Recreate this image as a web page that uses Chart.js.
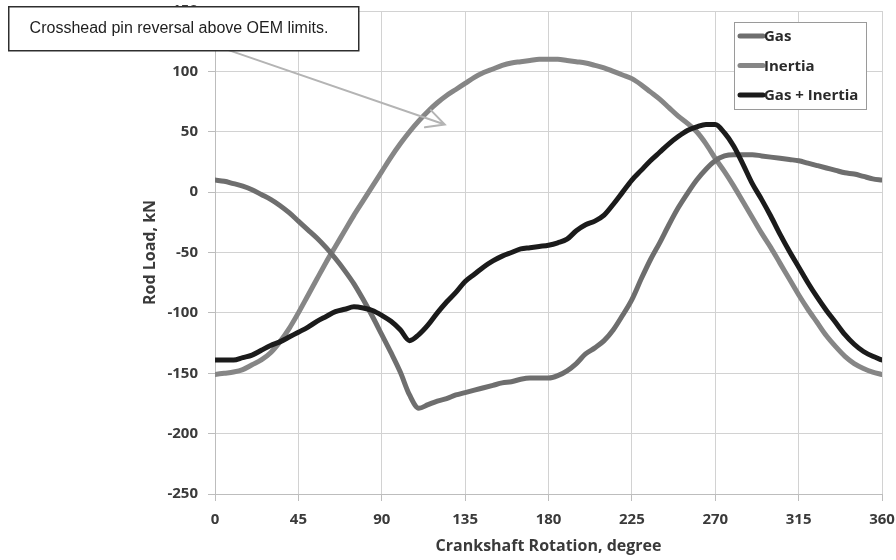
<!DOCTYPE html>
<html>
<head>
<meta charset="utf-8">
<script src="https://cdn.jsdelivr.net/npm/chart.js@4.4.1/dist/chart.umd.min.js"></script>
<style>
  html, body { margin: 0; padding: 0; background: #ffffff; }
  #wrap { width: 896px; height: 560px; position: relative; }
</style>
</head>
<body>
<div id="wrap"><canvas id="rodLoad" width="896" height="560"></canvas></div>
<script>
// Crank angle, degrees
const angles = [
  0, 5, 10, 15, 20, 25, 30, 35, 40, 45, 50, 55, 60, 65, 70, 75, 80, 85, 90,
  95, 100, 105, 110, 115, 120, 125, 130, 135, 140, 145, 150, 155, 160, 165, 170, 175, 180,
  185, 190, 195, 200, 205, 210, 215, 220, 225, 230, 235, 240, 245, 250, 255, 260, 265, 270,
  275, 280, 285, 290, 295, 300, 305, 310, 315, 320, 325, 330, 335, 340, 345, 350, 355, 360
];

// Gas load, kN
const gasLoad = [
  10, 9, 7, 5, 2, -2, -6, -11, -17, -24, -31, -38, -46, -55, -65, -76, -89, -103, -118,
  -133, -149, -168, -179, -176, -173, -171, -168, -166, -164, -162, -160, -158, -157, -155, -154, -154, -154,
  -152, -148, -142, -134, -129, -123, -114, -102, -89, -72, -56, -42, -27, -13, -1, 10, 19, 26,
  30, 31, 31, 31, 30, 29, 28, 27, 26, 24, 22, 20, 18, 16, 15, 13, 11, 10
];

// Inertia load, kN
const inertiaLoad = [
  -151, -150, -149, -147, -143, -139, -133, -124, -113, -100, -86, -72, -58, -45, -32, -19, -7, 5, 17,
  29, 40, 50, 59, 67, 74, 80, 85, 90, 95, 99, 102, 105, 107, 108, 109, 110, 110,
  110, 109, 108, 107, 105, 103, 100, 97, 94, 89, 83, 77, 70, 63, 57, 50, 40, 28,
  17, 5, -8, -21, -34, -46, -59, -72, -85, -97, -108, -119, -128, -136, -142, -146, -149, -151
];

// Combined gas + inertia load, kN
const combinedLoad = [
  -139, -139, -139, -137, -135, -131, -127, -124, -120, -116, -112, -107, -103, -99, -97, -95, -96, -98, -102,
  -107, -114, -123, -118, -110, -100, -91, -83, -74, -68, -62, -57, -53, -50, -47, -46, -45, -44,
  -42, -39, -32, -27, -24, -19, -10, 0, 10, 18, 26, 33, 40, 46, 51, 54, 56, 56,
  49, 38, 23, 7, -6, -20, -35, -49, -62, -75, -87, -98, -108, -118, -126, -132, -136, -139
];

const seriesNames = ['Gas', 'Inertia', 'Gas + Inertia'];
const xTicks = [0, 45, 90, 135, 180, 225, 270, 315, 360];
const yTicks = [-250, -200, -150, -100, -50, 0, 50, 100, 150];

const calloutText = 'Crosshead pin reversal above OEM limits.';
// Arrow from the callout box toward the inertia curve (data coordinates)
const arrowFrom = { x: 6.5, y: 118 };
const arrowTo = { x: 124, y: 56 };

const tickFont = { family: '"Open Sans", "DejaVu Sans", sans-serif', size: 15, weight: 'bold' };
const titleFont = { family: '"Open Sans", "DejaVu Sans", sans-serif', size: 16, weight: 'bold' };
const textColor = '#3a3a3a';
const gridColor = '#d2d2d2';

function toPoints(values) {
  return angles.map((a, i) => ({ x: a, y: values[i] }));
}

const overlayPlugin = {
  id: 'overlay',
  afterDraw(chart) {
    const ctx = chart.ctx;
    const xs = chart.scales.x, ys = chart.scales.y;

    // Legend box inside the plot, top right
    const lx = 734, ly = 22, lw = 132, lh = 87;
    ctx.save();
    ctx.fillStyle = '#ffffff';
    ctx.fillRect(lx, ly, lw, lh);
    ctx.strokeStyle = '#9a9a9a';
    ctx.lineWidth = 1;
    ctx.strokeRect(lx + 0.5, ly + 0.5, lw, lh);
    ctx.font = 'bold 15px "Open Sans", "DejaVu Sans", sans-serif';
    ctx.textBaseline = 'middle';
    ctx.textAlign = 'left';
    chart.data.datasets.forEach((ds, i) => {
      const cy = ly + 14 + i * 29.5;
      ctx.strokeStyle = ds.borderColor;
      ctx.lineWidth = 5;
      ctx.lineCap = 'round';
      ctx.beginPath();
      ctx.moveTo(740, cy);
      ctx.lineTo(763, cy);
      ctx.stroke();
      ctx.fillStyle = '#2a2a2a';
      ctx.fillText(ds.label, 764, cy + 1);
    });
    ctx.restore();

    // Callout arrow
    const x0 = xs.getPixelForValue(arrowFrom.x), y0 = ys.getPixelForValue(arrowFrom.y);
    const x1 = xs.getPixelForValue(arrowTo.x), y1 = ys.getPixelForValue(arrowTo.y);
    const ang = Math.atan2(y1 - y0, x1 - x0);
    const head = 20, spread = 0.47;
    ctx.save();
    ctx.strokeStyle = '#b4b4b4';
    ctx.lineWidth = 2;
    ctx.lineCap = 'round';
    ctx.beginPath();
    ctx.moveTo(x0, y0);
    ctx.lineTo(x1, y1);
    ctx.moveTo(x1 - head * Math.cos(ang - spread), y1 - head * Math.sin(ang - spread));
    ctx.lineTo(x1, y1);
    ctx.lineTo(x1 - head * Math.cos(ang + spread), y1 - head * Math.sin(ang + spread));
    ctx.stroke();
    ctx.restore();

    // Callout box
    const bx = 8, by = 6, bw = 350, bh = 44;
    ctx.save();
    ctx.fillStyle = '#ffffff';
    ctx.fillRect(bx, by, bw, bh);
    ctx.strokeStyle = '#2e2e2e';
    ctx.lineWidth = 1.5;
    ctx.strokeRect(bx + 0.75, by + 0.75, bw, bh);
    ctx.fillStyle = '#1e1e1e';
    ctx.font = '16px "Liberation Sans", Arial, sans-serif';
    ctx.textAlign = 'center';
    ctx.textBaseline = 'middle';
    ctx.fillText(calloutText, bx + bw / 2 - 4, by + bh / 2 + 0.5);
    ctx.restore();
  }
};

new Chart(document.getElementById('rodLoad'), {
  type: 'line',
  data: {
    datasets: [
      { label: seriesNames[0], data: toPoints(gasLoad), borderColor: '#6e6e6e', order: 1 },
      { label: seriesNames[1], data: toPoints(inertiaLoad), borderColor: '#868686', order: 2 },
      { label: seriesNames[2], data: toPoints(combinedLoad), borderColor: '#1b1b1b', order: 0 }
    ]
  },
  options: {
    responsive: false,
    animation: false,
    devicePixelRatio: 1,
    layout: { padding: { left: 137, top: 11, right: 14, bottom: 0 } },
    elements: {
      line: { borderWidth: 5, cubicInterpolationMode: 'monotone', borderCapStyle: 'round', borderJoinStyle: 'round', fill: false },
      point: { radius: 0, hoverRadius: 0 }
    },
    plugins: {
      legend: { display: false },
      tooltip: { enabled: false }
    },
    scales: {
      x: {
        type: 'linear',
        min: 0,
        max: 360,
        afterBuildTicks(scale) { scale.ticks = xTicks.map(v => ({ value: v })); },
        afterFit(scale) { scale.height = 66; scale.paddingLeft = 0; scale.paddingRight = 0; },
        ticks: { font: tickFont, color: textColor, padding: 10, maxRotation: 0 },
        grid: { color: gridColor, lineWidth: 1, tickLength: 7, tickColor: '#bdbdbd' },
        border: { color: '#bdbdbd' },
        title: { display: true, text: 'Crankshaft Rotation, degree', font: titleFont, color: textColor, padding: { top: 4, bottom: 4 } }
      },
      y: {
        min: -250,
        max: 150,
        afterBuildTicks(scale) { scale.ticks = yTicks.map(v => ({ value: v })); },
        afterFit(scale) { scale.width = 78; scale.paddingTop = 0; scale.paddingBottom = 0; },
        ticks: { font: tickFont, color: textColor, padding: 10 },
        grid: { color: gridColor, lineWidth: 1, tickLength: 7, tickColor: '#bdbdbd' },
        border: { color: '#bdbdbd' },
        title: { display: true, text: 'Rod Load, kN', font: titleFont, color: textColor, padding: { top: 4, bottom: 4 } }
      }
    }
  },
  plugins: [overlayPlugin]
});
</script>
</body>
</html>
